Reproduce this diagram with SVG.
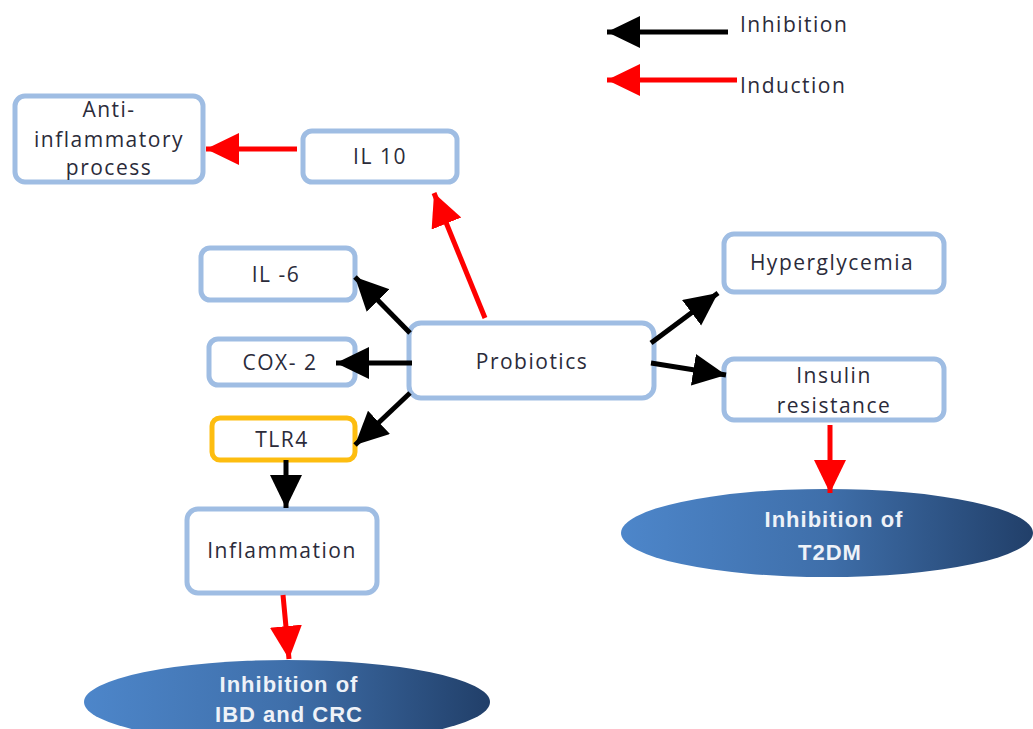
<svg xmlns="http://www.w3.org/2000/svg" width="1033" height="729" viewBox="0 0 1033 729">
<style>
.box{fill:#fff;stroke:#9fbde3;stroke-width:5}
.tlr{fill:#fff;stroke:#fdbd10;stroke-width:5}
.t{font-family:"Open Sans","Liberation Sans",sans-serif;font-size:21px;letter-spacing:1.5px;fill:#2b2b3a;text-anchor:middle}
.w{font-family:"Liberation Sans",sans-serif;font-size:22px;letter-spacing:1px;font-weight:bold;fill:#eef2f8;text-anchor:middle}
.blk{stroke:#000;stroke-width:5;fill:none}
.red{stroke:#ff0000;stroke-width:5;fill:none}
</style>
<defs>
<marker id="ab" markerUnits="userSpaceOnUse" markerWidth="36" markerHeight="34" refX="33" refY="16" orient="auto"><path d="M0,0 L33,16 L0,32 Z" fill="#000"/></marker>
<marker id="ar" markerUnits="userSpaceOnUse" markerWidth="36" markerHeight="34" refX="33" refY="16" orient="auto"><path d="M0,0 L33,16 L0,32 Z" fill="#ff0000"/></marker>
<linearGradient id="g" x1="0" y1="0" x2="1" y2="0">
<stop offset="0" stop-color="#4d86ca"/><stop offset="0.5" stop-color="#3f6faa"/><stop offset="1" stop-color="#213f69"/>
</linearGradient>
</defs>
<g id="legend">
<line class="blk" x1="728" y1="32" x2="607" y2="32" marker-end="url(#ab)"/>
<text class="t" x="740" y="32" style="text-anchor:start">Inhibition</text>
<line class="red" x1="737" y1="80" x2="607" y2="80" marker-end="url(#ar)"/>
<text class="t" x="740" y="93" style="text-anchor:start">Induction</text>
</g>
<g id="anti">
<rect class="box" x="15" y="96" width="188" height="86" rx="10"/>
<text class="t" x="109" y="117">Anti-</text>
<text class="t" x="109" y="147">inflammatory</text>
<text class="t" x="109" y="175">process</text>
</g>
<g id="il10">
<rect class="box" x="303" y="131" width="154" height="51" rx="9"/>
<text class="t" x="380" y="164">IL 10</text>
</g>
<g id="il6">
<rect class="box" x="201" y="248" width="154" height="52" rx="9"/>
<text class="t" x="276" y="282">IL -6</text>
</g>
<g id="cox2">
<rect class="box" x="209" y="339" width="146" height="46" rx="9"/>
<text class="t" x="280" y="370">COX- 2</text>
</g>
<g id="tlr4">
<rect class="tlr" x="212" y="418" width="143" height="42" rx="8"/>
<text class="t" x="282" y="447">TLR4</text>
</g>
<g id="probiotics">
<rect class="box" x="409" y="323" width="245" height="75" rx="12"/>
<text class="t" x="532" y="369">Probiotics</text>
</g>
<g id="hyperglycemia">
<rect class="box" x="724" y="234" width="220" height="58" rx="10"/>
<text class="t" x="832" y="270">Hyperglycemia</text>
</g>
<g id="insulin">
<rect class="box" x="724" y="359" width="220" height="61" rx="10"/>
<text class="t" x="834" y="383">Insulin</text>
<text class="t" x="834" y="413">resistance</text>
</g>
<g id="inflammation">
<rect class="box" x="187" y="509" width="190" height="84" rx="11"/>
<text class="t" x="282" y="558">Inflammation</text>
</g>
<g id="t2dm">
<ellipse cx="827" cy="533" rx="206" ry="44" fill="url(#g)"/>
<text class="w" x="834" y="527">Inhibition  of</text>
<text class="w" x="830" y="560">T2DM</text>
</g>
<g id="ibd">
<ellipse cx="287" cy="702" rx="203" ry="42" fill="url(#g)"/>
<text class="w" x="289" y="692">Inhibition  of</text>
<text class="w" x="289" y="722">IBD and CRC</text>
</g>
<g id="connectors">
<line class="red" x1="297" y1="149" x2="206" y2="149" marker-end="url(#ar)"/>
<line class="red" x1="485" y1="318" x2="434" y2="193" marker-end="url(#ar)"/>
<line class="blk" x1="410" y1="333" x2="355" y2="277" marker-end="url(#ab)"/>
<line class="blk" x1="412" y1="363" x2="336" y2="363" marker-end="url(#ab)"/>
<line class="blk" x1="410" y1="393" x2="355" y2="445" marker-end="url(#ab)"/>
<line class="blk" x1="651" y1="343" x2="718" y2="293" marker-end="url(#ab)"/>
<line class="blk" x1="651" y1="363" x2="726" y2="375" marker-end="url(#ab)"/>
<line class="red" x1="830" y1="425" x2="830" y2="493" marker-end="url(#ar)"/>
<line class="blk" x1="286" y1="460" x2="286" y2="508" marker-end="url(#ab)"/>
<line class="red" x1="283" y1="595" x2="289" y2="659" marker-end="url(#ar)"/>
</g>
</svg>
